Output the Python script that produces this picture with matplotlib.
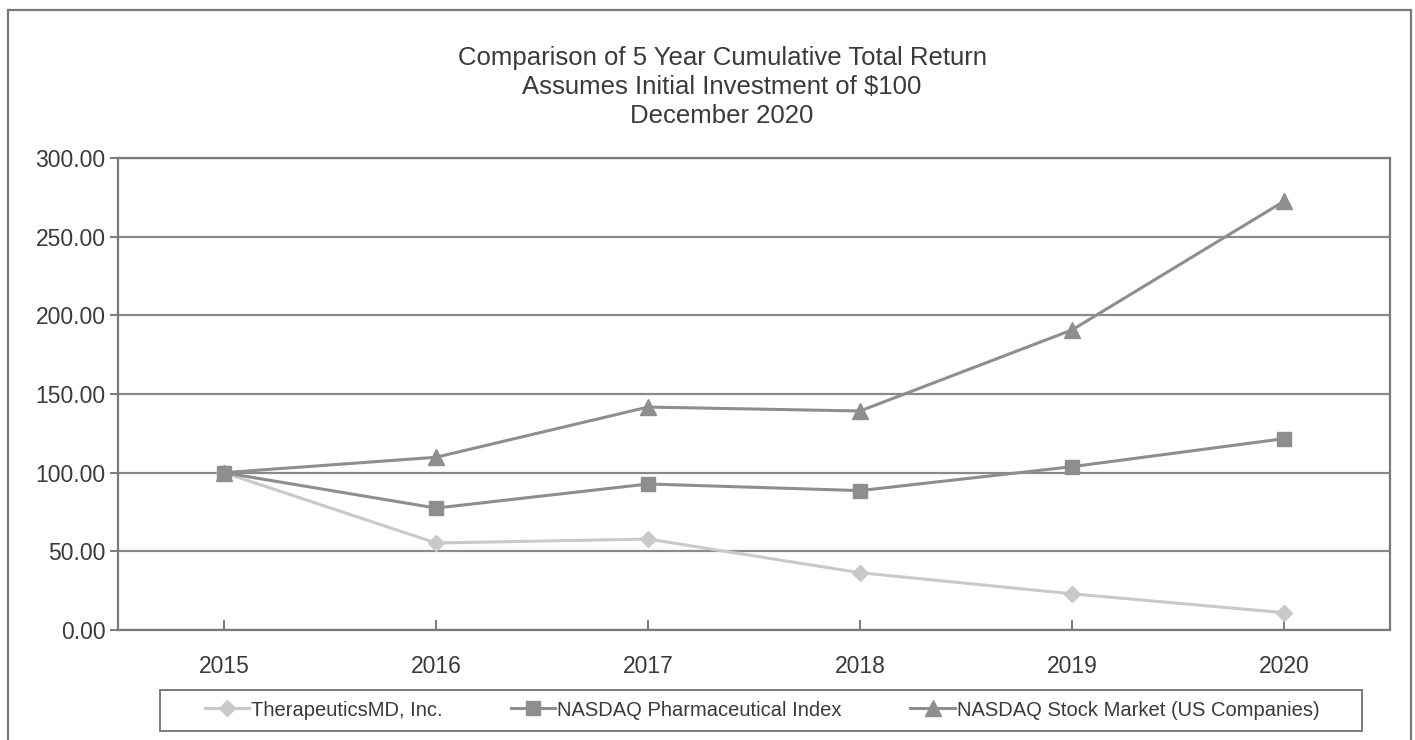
import matplotlib
matplotlib.use("Agg")
import matplotlib.pyplot as plt
import matplotlib.patches as mpatches

plt.rcParams['font.family'] = ['Liberation Sans', 'DejaVu Sans']

# ── datos ────────────────────────────────────────────────────────────────────
years    = ["2015", "2016", "2017", "2018", "2019", "2020"]
thera    = [100.00, 55.3, 57.8, 36.4, 23.0, 11.0]
pharma   = [100.00, 77.5, 92.8, 88.6, 103.8, 121.6]
nasdaq   = [100.00, 109.8, 141.7, 139.2, 190.7, 272.5]
series_labels = ["TherapeuticsMD, Inc.", "NASDAQ Pharmaceutical Index",
                 "NASDAQ Stock Market (US Companies)"]
yticks   = [0, 50, 100, 150, 200, 250, 300]
title_lines = ["Comparison of 5 Year Cumulative Total Return",
               "Assumes Initial Investment of $100",
               "December 2020"]

W, H = 1415, 740
fig = plt.figure(figsize=(W/100, H/100), dpi=100)

# marco exterior
fig.patches.append(mpatches.Rectangle((8/W, -0.02), (1411-8)/W, 1.02 - 10/H,
                                      transform=fig.transFigure, fill=False,
                                      edgecolor='#7a7a7a', lw=1.6))
# marco de la leyenda
fig.patches.append(mpatches.Rectangle((160/W, 1-731/H), (1362-160)/W, 41/H,
                                      transform=fig.transFigure, fill=False,
                                      edgecolor='#7a7a7a', lw=1.4))

ax = fig.add_axes([118/W, 1-630/H, (1390-118)/W, (630-158)/H])

txt = '#3a3a3a'
grid_c = '#8a8a8a'
x = list(range(len(years)))

ax.plot(x, thera,  color='#c9c9c9', lw=2.2, marker='D', ms=8.5, label=series_labels[0], zorder=3)
ax.plot(x, pharma, color='#8e8e8e', lw=2.2, marker='s', ms=10,  label=series_labels[1], zorder=4)
ax.plot(x, nasdaq, color='#8e8e8e', lw=2.2, marker='^', ms=12,  label=series_labels[2], zorder=4)

ax.set_xlim(-0.5, len(years) - 0.5)
ax.set_ylim(0, 300)
ax.set_yticks(yticks)
ax.set_yticklabels([f"{v:.2f}" for v in yticks])
ax.set_xticks(x)
ax.set_xticklabels(years)
ax.yaxis.grid(True, color=grid_c, lw=1.6)
ax.set_axisbelow(True)

for s in ax.spines.values():
    s.set_color('#7a7a7a')
    s.set_linewidth(1.6)

ax.tick_params(axis='y', direction='out', length=6, width=1.4, color='#7a7a7a',
               labelsize=16.5, labelcolor=txt, pad=3)
ax.tick_params(axis='x', direction='in', length=7, width=1.4, color='#7a7a7a',
               labelsize=16.5, labelcolor=txt, pad=18)

# título
for i, line in enumerate(title_lines):
    fig.text(722/W, 1 - (58 + 29*i)/H, line, ha='center', va='center',
             fontsize=18.5, color=txt)

# leyenda
leg = fig.legend(loc='center', bbox_to_anchor=(762/W, 1-710/H),
                 bbox_transform=fig.transFigure, ncol=3,
                 fontsize=14.5, frameon=False, handlelength=2.2,
                 handletextpad=0.1, columnspacing=3.4, labelcolor=txt)

fig.savefig("out.png", dpi=100)
